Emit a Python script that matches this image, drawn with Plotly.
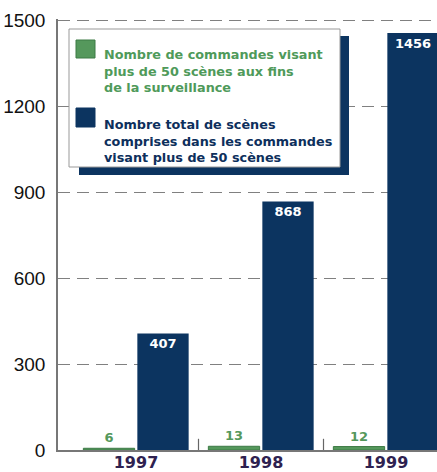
import plotly.graph_objects as go

years = ["1997", "1998", "1999"]
commandes = [6, 13, 12]
scenes = [407, 868, 1456]
y_ticks = [0, 300, 600, 900, 1200, 1500]

green = "#55985c"
navy = "#0c3460"

label_commandes = ("<b>Nombre de commandes visant<br>plus de 50 scènes aux fins<br>"
                   "de la surveillance</b>")
label_scenes = ("<b>Nombre total de scènes<br>comprises dans les commandes<br>"
                "visant plus de 50 scènes</b>")

# page geometry of the plotting area (pixels)
W, H = 437, 472
L, T, B = 58, 19, 22
PW, PH = W - L, H - T - B


def px(x):
    return (x - L) / PW


def py(y):
    return (H - B - y) / PH


fig = go.Figure()
fig.add_trace(go.Bar(
    x=years, y=commandes, name="commandes", showlegend=False,
    marker=dict(color=green, line=dict(color="#3d7a45", width=1)),
    text=[str(v) for v in commandes], textposition="outside",
    textfont=dict(family="DejaVu Sans", size=13, color=green),
    cliponaxis=False,
))
fig.add_trace(go.Bar(
    x=years, y=scenes, name="scènes", showlegend=False,
    marker=dict(color=navy, line=dict(width=0)),
    text=[str(v) for v in scenes], textposition="inside",
    insidetextanchor="end",
    textfont=dict(family="DejaVu Sans", size=13, color="white"),
))
fig.update_traces(texttemplate="<b>%{text}</b>")

shapes = [
    # short separators between the year groups
    *[dict(type="line", xref="x", yref="paper", x0=b, x1=b, y0=0, y1=0.026,
           line=dict(color="#666666", width=1.2)) for b in (0.5, 1.5)],
    # key box: dark drop shadow, then the white panel
    dict(type="rect", xref="paper", yref="paper",
         x0=px(79), x1=px(349), y0=py(175), y1=py(36),
         fillcolor=navy, line=dict(width=0), layer="above"),
    dict(type="rect", xref="paper", yref="paper",
         x0=px(69), x1=px(340), y0=py(167), y1=py(29),
         fillcolor="white", line=dict(color="#999999", width=1), layer="above"),
    # colour swatches
    dict(type="rect", xref="paper", yref="paper",
         x0=px(76), x1=px(95), y0=py(58), y1=py(40),
         fillcolor=green, line=dict(color="#3d7a45", width=1), layer="above"),
    dict(type="rect", xref="paper", yref="paper",
         x0=px(76), x1=px(95), y0=py(127), y1=py(108),
         fillcolor=navy, line=dict(color=navy, width=1), layer="above"),
]

annotations = [
    dict(xref="paper", yref="paper", x=px(102), y=py(71),
         xanchor="left", yanchor="middle", align="left", showarrow=False,
         text=label_commandes,
         font=dict(family="DejaVu Sans", size=12.8, color="#4f9a5a")),
    dict(xref="paper", yref="paper", x=px(102), y=py(141),
         xanchor="left", yanchor="middle", align="left", showarrow=False,
         text=label_scenes,
         font=dict(family="DejaVu Sans", size=12.8, color="#0d2f5c")),
]

fig.update_layout(
    width=W, height=H,
    margin=dict(l=L, r=0, t=T, b=B),
    paper_bgcolor="white", plot_bgcolor="white",
    barmode="group", bargap=0.136, bargroupgap=0.05,
    showlegend=False,
    xaxis=dict(
        type="category", range=[-0.624, 2.408], automargin=False,
        showline=True, linecolor="#777777", linewidth=1.5,
        ticks="", showgrid=False,
        tickfont=dict(family="DejaVu Sans", size=16, color="#2e2150", weight="bold"),
        ticklabelstandoff=-3,
    ),
    yaxis=dict(
        range=[0, 1505], tickvals=y_ticks, automargin=False,
        showline=True, linecolor="#777777", linewidth=1.5,
        showgrid=True, gridcolor="#808080", gridwidth=1.3,
        griddash="12px,7px",
        zeroline=False, ticks="",
        tickfont=dict(family="Liberation Sans", size=19, color="#111111"),
        ticklabelstandoff=7,
    ),
    shapes=shapes,
    annotations=annotations,
)

fig.write_html("out.html")
